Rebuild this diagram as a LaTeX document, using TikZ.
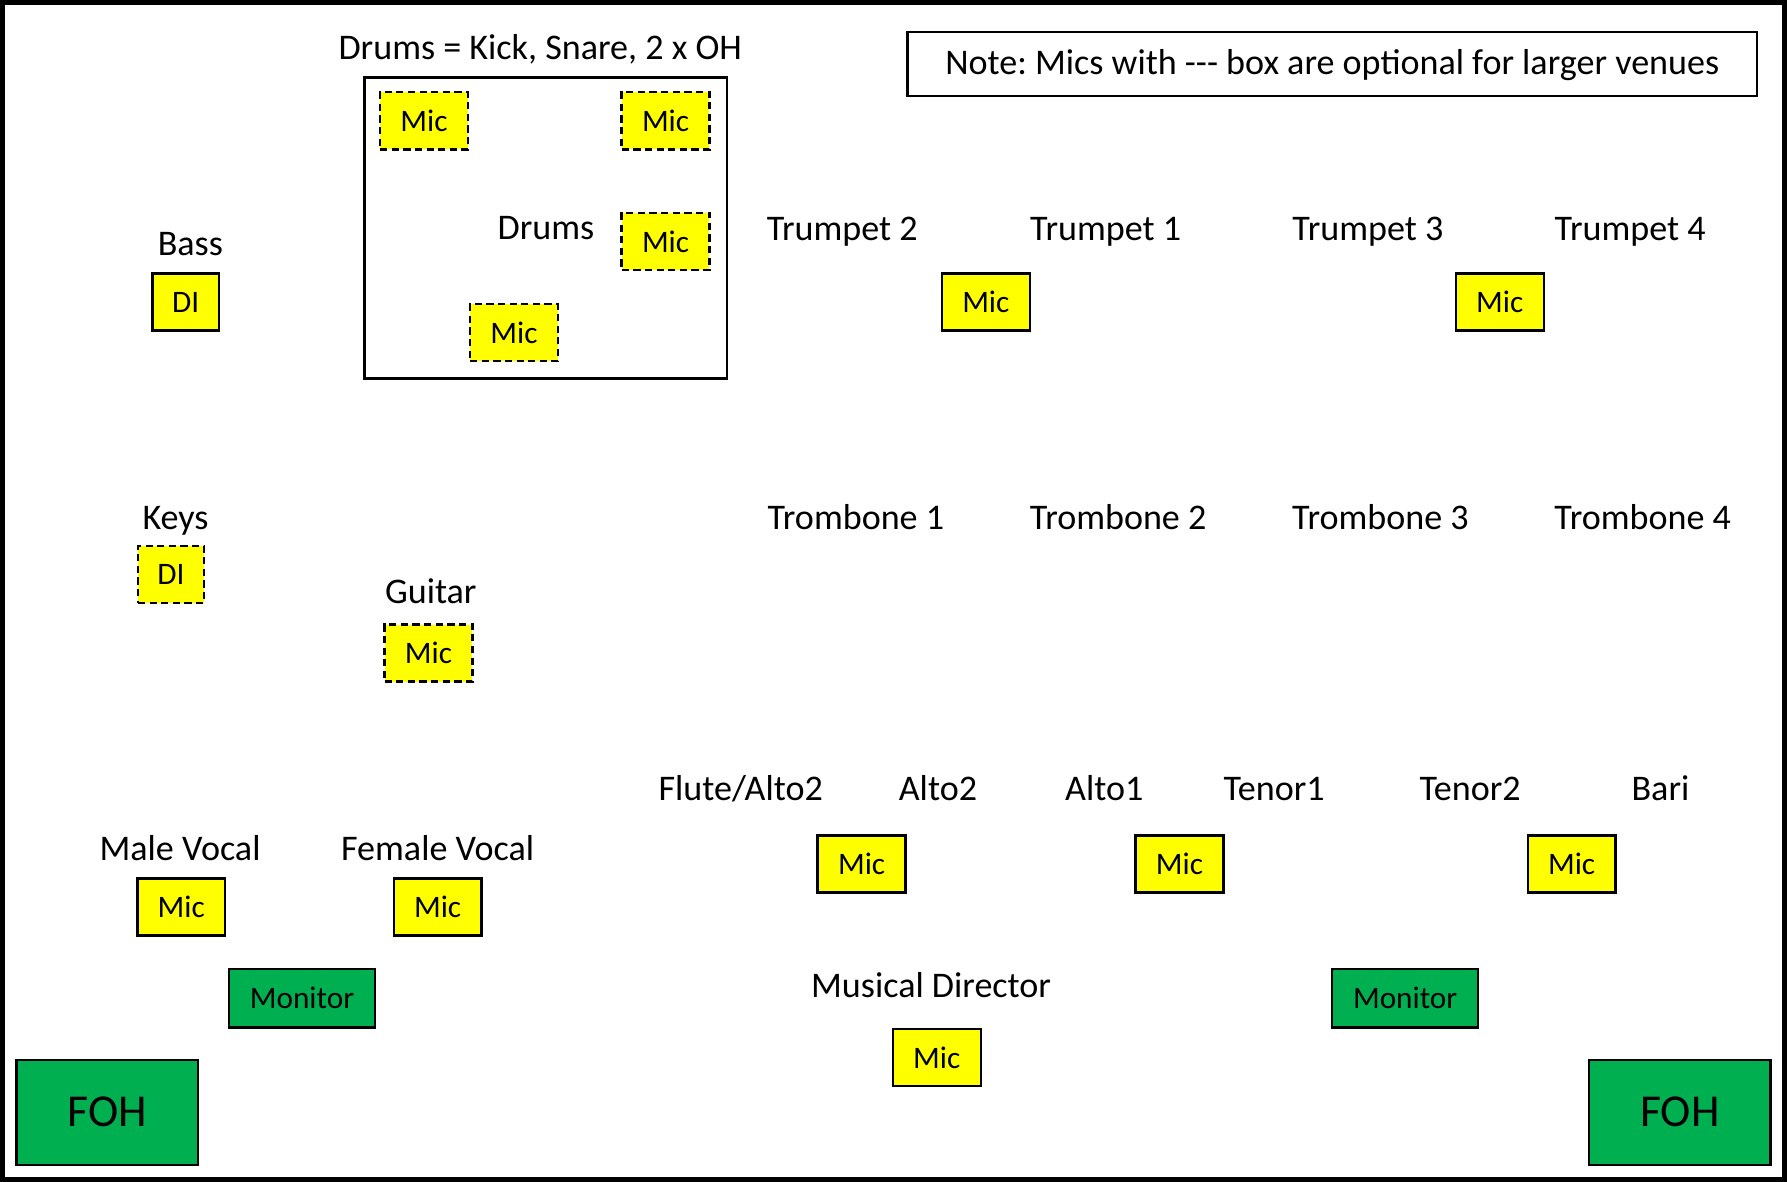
\documentclass[tikz,border=0pt]{standalone}
\usepackage{fontspec}
\setmainfont{Carlito}
\frenchspacing
\definecolor{micyellow}{HTML}{FFFF00}
\definecolor{wedgegreen}{HTML}{00B050}
\tikzset{
	mic/.style     = {draw, fill=micyellow, rectangle, line width=0.6pt, inner sep=1pt, minimum width=0.77cm, minimum height=0.5cm, font=\fontsize{7.8}{9}\selectfont},
	optmic/.style  = {mic, dash pattern=on 1.8pt off 1.1pt},
	di/.style      = {mic, minimum width=0.58cm},
	optdi/.style   = {di, dash pattern=on 1.8pt off 1.1pt},
	monitor/.style = {mic, fill=wedgegreen, minimum width=1.28cm, minimum height=0.51cm},
	foh/.style     = {monitor, minimum width=1.59cm, minimum height=0.92cm, font=\fontsize{11.4}{13}\selectfont},
	player/.style  = {inner sep=0pt, text height=1.55ex, text depth=0.45ex, font=\fontsize{9}{11}\selectfont},
	frame/.style   = {draw, line width=0.6pt},
}

\begin{document}
\begin{tikzpicture}[x=0.01cm, y=-0.01cm]
		\useasboundingbox (0,0) rectangle (1568,1037);
		% Stage outline
		\draw[line width=1.2pt] (2,2) rectangle (1566,1035);

		% Drum riser
		\node[player] (drumnote) at (474,43) {Drums = Kick, Snare, 2 x OH};
		\node[frame, minimum width=3.18cm, minimum height=2.64cm, inner sep=0pt] (riser) at (479,200) {};
		\node[player] (drums) at (479,201) {Drums};
		\node[optmic] (ohleft)  at (372,106) {Mic};
		\node[optmic] (ohright) at (584,106) {Mic};
		\node[optmic] (snare)   at (584,212) {Mic};
		\node[optmic] (kick)    at (451,292) {Mic};

		% Note
		\node[frame, minimum width=7.45cm, minimum height=0.56cm, player] (note) at (1169,56) {Note: Mics with -{}-{}- box are optional for larger venues};

		% Rhythm section
		\node[player] (bass) at (167,215) {Bass};
		\node[di] (bassdi) at (163,265) {DI};
		\node[player] (keys) at (154,455) {Keys};
		\node[optdi] (keysdi) at (150,504) {DI};
		\node[player] (guitar) at (378,520) {Guitar};
		\node[optmic] (guitarmic) at (376,573) {Mic};

		% Trumpets
		\draw
			node[player] (tpttwo) at (739,202) {Trumpet 2}
			node[player, right of = tpttwo,  node distance = 2.31cm] (tptone)   {Trumpet 1}
			node[player, right of = tptone,  node distance = 2.30cm] (tptthree) {Trumpet 3}
			node[player, right of = tptthree, node distance = 2.30cm] (tptfour) {Trumpet 4};
		\node[mic] (tptmicone) at (865,265) {Mic};
		\node[mic] (tptmictwo) at (1316,265) {Mic};

		% Trombones
		\draw
			node[player] (tbnone) at (751,455) {Trombone 1}
			node[player, right of = tbnone,   node distance = 2.30cm] (tbntwo)   {Trombone 2}
			node[player, right of = tbntwo,   node distance = 2.30cm] (tbnthree) {Trombone 3}
			node[player, right of = tbnthree, node distance = 2.30cm] (tbnfour)  {Trombone 4};

		% Saxes
		\node[player] (flute)  at (650,693) {Flute/Alto2};
		\node[player] (alttwo) at (823,693) {Alto2};
		\node[player] (altone) at (969,693) {Alto1};
		\node[player] (tenone) at (1118,693) {Tenor1};
		\node[player] (tentwo) at (1290,693) {Tenor2};
		\node[player] (bari)   at (1457,693) {Bari};
		\node[mic] (saxmicone)   at (756,758) {Mic};
		\node[mic] (saxmictwo)   at (1035,758) {Mic};
		\node[mic] (saxmicthree) at (1379,758) {Mic};

		% Vocals and front line
		\node[player] (malevox) at (158,746) {Male Vocal};
		\node[mic] (malemic) at (159,796) {Mic};
		\node[player] (femalevox) at (384,746) {Female Vocal};
		\node[mic] (femalemic) at (384,796) {Mic};
		\node[monitor] (monleft)  at (265,876) {Monitor};
		\node[monitor] (monright) at (1233,876) {Monitor};
		\node[player] (md) at (817,866) {Musical Director};
		\node[mic] (mdmic) at (822,928) {Mic};

		% Front of house
		\node[foh] (fohleft)  at (94,976) {FOH};
		\node[foh] (fohright) at (1474,976) {FOH};
	\end{tikzpicture}
\end{document}
